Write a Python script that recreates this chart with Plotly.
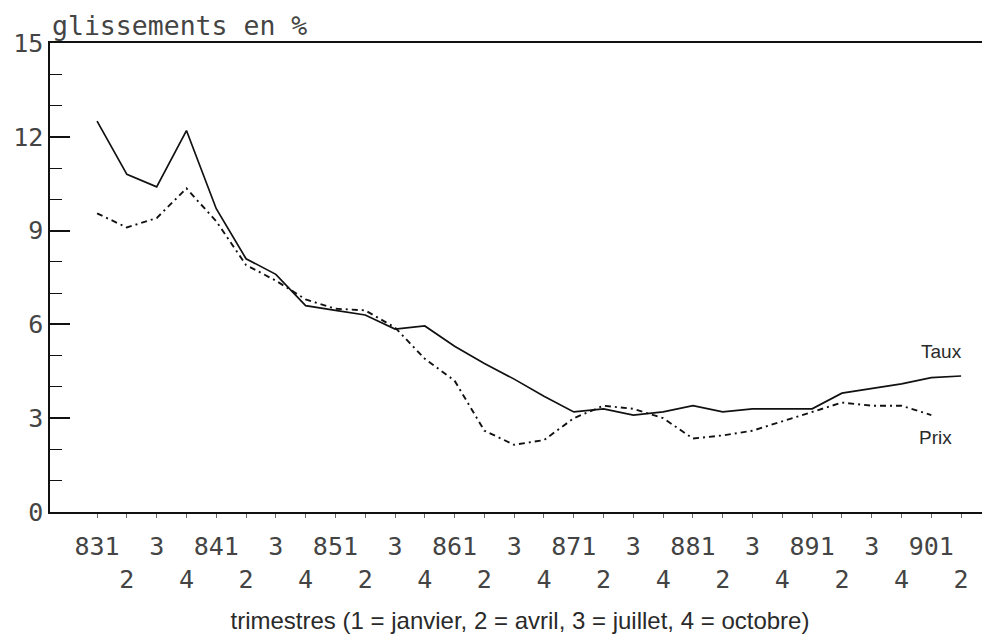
import plotly.graph_objects as go

# quarters 1983Q1 .. 1990Q2
quarters = ["831", "832", "833", "834", "841", "842", "843", "844",
            "851", "852", "853", "854", "861", "862", "863", "864",
            "871", "872", "873", "874", "881", "882", "883", "884",
            "891", "892", "893", "894", "901", "902"]
tick_labels = ["831", "<br>2", "3", "<br>4", "841", "<br>2", "3", "<br>4",
               "851", "<br>2", "3", "<br>4", "861", "<br>2", "3", "<br>4",
               "871", "<br>2", "3", "<br>4", "881", "<br>2", "3", "<br>4",
               "891", "<br>2", "3", "<br>4", "901", "<br>2"]

taux = [12.5, 10.8, 10.4, 12.2, 9.7, 8.1, 7.6, 6.6,
        6.45, 6.3, 5.85, 5.95, 5.3, 4.75, 4.25, 3.7,
        3.2, 3.3, 3.1, 3.2, 3.4, 3.2, 3.3, 3.3,
        3.3, 3.8, 3.95, 4.1, 4.3, 4.35]
prix = [9.55, 9.1, 9.4, 10.35, 9.3, 7.9, 7.4, 6.8,
        6.5, 6.45, 5.9, 4.9, 4.2, 2.6, 2.15, 2.3,
        3.0, 3.4, 3.3, 3.0, 2.35, 2.45, 2.6, 2.9,
        3.2, 3.5, 3.4, 3.4, 3.1]

y_ticks = [0, 3, 6, 9, 12, 15]

idx = list(range(len(quarters)))
mono = "DejaVu Sans Mono"
ink = "#2a2a2a"
tick_ink = "#444"

fig = go.Figure()
fig.add_trace(go.Scatter(x=idx, y=taux, mode="lines", name="Taux",
                         line=dict(color="#111", width=1.7), showlegend=False))
fig.add_trace(go.Scatter(x=idx[:len(prix)], y=prix, mode="lines", name="Prix",
                         line=dict(color="#111", width=1.9, dash="6px,4px,2px,4px"),
                         showlegend=False))

fig.add_annotation(x=idx[-1], y=taux[-1], text="Taux", showarrow=False,
                   xanchor="right", yanchor="bottom", xshift=3, yshift=12,
                   font=dict(family="Liberation Sans", size=19, color=ink))
fig.add_annotation(x=idx[len(prix) - 1], y=prix[-1], text="Prix", showarrow=False,
                   xanchor="center", yanchor="top", xshift=4, yshift=-10,
                   font=dict(family="Liberation Sans", size=19, color=ink))

# page body has an 8px margin: figure is placed at (8, 8)
fig.update_layout(
    width=982, height=628,
    margin=dict(l=42, r=0, t=35, b=124, autoexpand=False),
    paper_bgcolor="white", plot_bgcolor="white",
    xaxis=dict(
        range=[-1.58, 29.97], tickmode="array", tickvals=idx, ticktext=tick_labels,
        tickangle=0, automargin=False, ticklabelstandoff=7,
        showgrid=False, zeroline=False, showline=True, linecolor="#111", linewidth=2,
        mirror=True, ticks="outside", ticklen=4, tickcolor="#666", tickwidth=1,
        tickfont=dict(family=mono, size=25, color=tick_ink),
        title=dict(text="trimestres (1 = janvier, 2 = avril, 3 = juillet, 4 = octobre)",
                   font=dict(family="Liberation Sans", size=24, color=ink), standoff=20),
    ),
    yaxis=dict(
        range=[0, 15], tickmode="array", tickvals=y_ticks, automargin=False,
        showgrid=False, zeroline=False, showline=True, linecolor="#111", linewidth=1.5,
        ticks="inside", ticklen=20, tickwidth=1.5, tickcolor="#111",
        minor=dict(tickmode="array", tickvals=[1, 2, 4, 5, 7, 8, 10, 11, 13, 14],
                   ticks="inside", ticklen=12, tickwidth=1.2, tickcolor="#111"),
        tickfont=dict(family=mono, size=25, color=tick_ink),
    ),
)

fig.add_annotation(xref="paper", yref="paper", x=0, y=1, xanchor="left", yanchor="bottom",
                   text="glissements en %", showarrow=False, yshift=0,
                   font=dict(family=mono, size=26.5, color=tick_ink))

fig.write_html("out.html")
